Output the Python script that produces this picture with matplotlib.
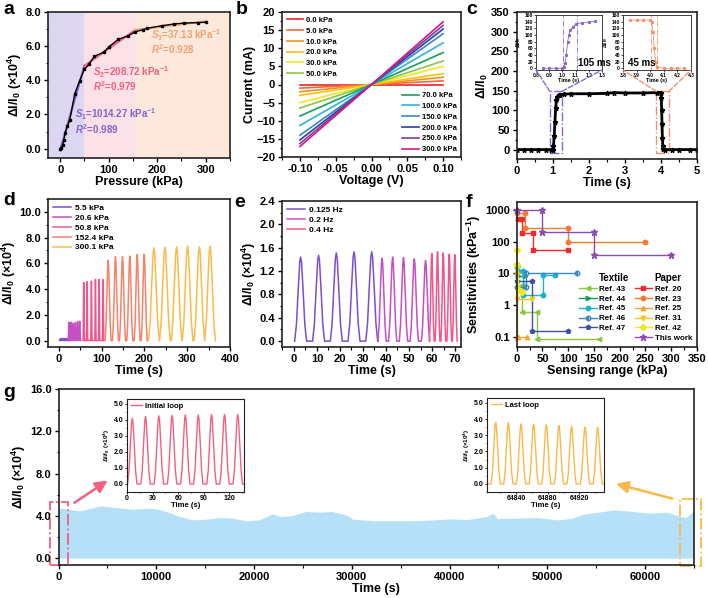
import numpy as np
import matplotlib
matplotlib.use('Agg')
import matplotlib.pyplot as plt
from matplotlib.lines import Line2D
from matplotlib.patches import Rectangle, ConnectionPatch
from matplotlib.ticker import AutoMinorLocator, FormatStrFormatter, NullLocator

plt.rcParams.update({
    'font.family': ['Liberation Sans', 'DejaVu Sans'],
    'font.weight': 'bold',
    'axes.labelweight': 'bold',
    'mathtext.fontset': 'custom',
    'mathtext.rm': 'Liberation Sans:bold',
    'mathtext.it': 'Liberation Sans:italic:bold',
    'mathtext.bf': 'Liberation Sans:bold',
    'axes.linewidth': 1.2,
    'axes.edgecolor': '#222222',
})

# ---------------- datos ----------------
# a) respuesta vs presion
a_p = [0, 2, 5, 8, 10, 15, 20, 30, 40, 50, 60, 70, 90, 100, 120, 140, 155, 170, 180, 210, 235, 255, 285, 300]
a_v = [0.0, 0.05, 0.2, 0.5, 0.9, 1.3, 1.7, 3.2, 3.95, 4.65, 4.95, 5.4, 5.65, 5.95, 6.4, 6.6, 6.85, 6.95, 7.05, 7.2, 7.3, 7.35, 7.38, 7.4]
a_fit_p = [0, 50, 155, 300]
a_fit_v = [-0.1, 4.85, 6.95, 7.45]

# b) curvas I-V
b_labels = ['0.0 kPa', '5.0 kPa', '10.0 kPa', '20.0 kPa', '30.0 kPa', '50.0 kPa',
            '70.0 kPa', '100.0 kPa', '150.0 kPa', '200.0 kPa', '250.0 kPa', '300.0 kPa']
b_i_pos = [0.0, 1.0, 2.0, 3.0, 5.0, 6.5, 8.8, 11.5, 14.0, 15.3, 16.3, 17.3]
b_i_neg = [0.0, -1.0, -2.0, -3.0, -5.0, -6.5, -8.7, -11.3, -14.0, -15.3, -16.3, -17.1]
b_colors = ['#e8262a', '#f26a3a', '#f5901e', '#fbbf0c', '#f3e51f', '#8dc63f',
            '#17a05a', '#2bb5e0', '#3a86c8', '#2e3f9e', '#7b3fa0', '#d6187f']

# c) tiempo de respuesta
c_t = [0, 0.2, 0.4, 0.6, 0.8, 0.95, 1.0, 1.02, 1.04, 1.06, 1.08, 1.1, 1.13, 1.17, 1.2, 1.3, 1.5, 2.0,
       2.5, 2.7, 3.0, 3.5, 3.9, 4.0, 4.01, 4.02, 4.03, 4.04, 4.05, 4.07, 4.1, 4.3, 4.5, 4.8, 5.0]
c_v = [0, 0, 0, 0, 0, 0, 0, 10, 35, 70, 105, 125, 135, 139, 140, 141, 142, 142,
       143, 145, 144, 144, 145, 145, 130, 100, 65, 30, 8, 2, 0, 0, 0, 0, 0]
c_in1_t = [0.85, 0.9, 0.95, 1.0, 1.01, 1.02, 1.03, 1.04, 1.05, 1.06, 1.08, 1.1, 1.15, 1.2, 1.25]
c_in1_v = [0, 0, 0, 0, 3, 15, 40, 80, 100, 115, 125, 132, 137, 139, 141]
c_in2_t = [3.85, 3.9, 3.95, 4.0, 4.01, 4.02, 4.03, 4.04, 4.05, 4.1, 4.15, 4.2, 4.25]
c_in2_v = [145, 145, 145, 145, 140, 110, 60, 20, 3, 0, 0, 0, 0]

# d) distintas presiones (picos)
d_labels = ['5.5 kPa', '20.6 kPa', '50.8 kPa', '152.4 kPa', '300.1 kPa']
d_colors = ['#7a4fd0', '#c64fc4', '#f2558a', '#f5826a', '#f9bb4a']
d_peaks = [[4, 8, 12, 16, 20],
           [24, 29, 34, 39, 44, 49],
           [58.5, 66.3, 76.4, 85.8, 94.4, 103.7],
           [115.4, 132.6, 149, 166, 183.3, 199.7],
           [222.3, 248, 275.3, 301, 328.4, 353.4]]
d_heights = [[0.15, 0.16, 0.15, 0.16, 0.15],
             [1.42, 1.42, 1.35, 1.40, 1.48, 1.50],
             [4.52, 4.57, 4.62, 4.75, 4.75, 4.73],
             [6.25, 6.51, 6.51, 6.56, 6.69, 6.69],
             [7.21, 7.26, 7.29, 7.34, 7.29, 7.34]]
d_halfw = [1.8, 2.0, 1.6, 7.0, 12.5]

# e) distintas frecuencias
e_labels = ['0.125 Hz', '0.2 Hz', '0.4 Hz']
e_colors = ['#7a4fd0', '#c64fc4', '#f2558a']
e_peaks = [[2.9, 10.7, 18.4, 26.1, 33.8],
           [38.3, 42.9, 47.6, 52.3, 57.2],
           [59.9, 62.4, 64.9, 67.5, 69.9]]
e_heights = [[1.44, 1.47, 1.51, 1.53, 1.53],
             [1.42, 1.44, 1.43, 1.41, 1.38],
             [1.50, 1.53, 1.51, 1.49, 1.48]]
e_halfw = [2.6, 1.8, 1.05]

# f) comparacion con la literatura
f_refs = {
    'Ref. 43': ([10, 10, 40, 40, 160], [4.3, 0.59, 0.59, 0.082, 0.082]),
    'Ref. 44': ([1, 3, 3, 16], [17, 17, 8, 8]),
    'Ref. 45': ([2, 13, 13, 52, 52, 75], [12, 12, 2.1, 2.1, 8.8, 8.8]),
    'Ref. 46': ([1, 19, 19, 118], [3.6, 3.6, 10.5, 10.5]),
    'Ref. 47': ([1, 30, 30, 100], [5.8, 5.8, 0.15, 0.15]),
    'Ref. 20': ([3, 11, 11, 31, 31, 100], [520, 520, 183, 183, 55, 55]),
    'Ref. 23': ([0.5, 16, 16, 100, 100, 250], [780, 780, 277, 277, 95, 95]),
    'Ref. 25': ([1, 1, 3, 20], [12, 0.1, 0.1, 0.1]),
    'Ref. 31': ([1, 1, 30], [18, 1.6, 1.6]),
    'Ref. 42': ([0.5, 1, 5, 10], [55, 18, 3, 2.5]),
    'This work': ([0, 50, 50, 150, 150, 300], [1000, 1000, 207, 207, 38, 38]),
}
f_style = {
    'Ref. 43': ('#8cc63f', '<'), 'Ref. 44': ('#11a05a', '>'), 'Ref. 45': ('#1ab3d0', 'o'),
    'Ref. 46': ('#3a88c8', 'o'), 'Ref. 47': ('#3f4fa3', 'p'), 'Ref. 20': ('#ee2a2a', 's'),
    'Ref. 23': ('#f47a30', 'o'), 'Ref. 25': ('#f7a530', '^'), 'Ref. 31': ('#f8c51a', 'v'),
    'Ref. 42': ('#f0e81a', 'D'), 'This work': ('#8a4cb0', '*'),
}

# g) estabilidad
g_t = [0, 800, 2200, 4200, 5900, 7600, 9300, 10000, 11000, 12400, 13700, 15100, 16500, 17800,
       19200, 20500, 21900, 22600, 23900, 25300, 26700, 28000, 29400, 30100, 30900, 32600,
       35000, 36700, 38400, 40100, 41800, 43800, 44400, 44900, 46900, 49000, 51000, 52400,
       53700, 55700, 56800, 58800, 60500, 62200, 63600, 64200, 64900, 65000]
g_v = [4.72, 4.66, 4.47, 4.94, 4.79, 4.63, 4.72, 4.66, 4.41, 3.94, 3.62, 3.69, 3.84, 3.78,
       3.53, 3.62, 4.19, 3.94, 4.03, 4.41, 4.35, 4.41, 4.09, 3.69, 3.62, 3.53,
       3.53, 3.55, 3.62, 3.72, 3.65, 3.94, 4.25, 3.75, 3.78, 3.84, 3.62, 3.75,
       4.16, 4.41, 4.57, 4.41, 4.25, 4.35, 3.94, 3.85, 4.41, 4.35]
g_in1_peaks = [6.2, 21.7, 37.3, 52.8, 68.3, 83.5, 99, 114.2, 129.7]
g_in1_h = [4.1, 4.2, 4.25, 4.28, 4.3, 4.3, 4.32, 4.33, 4.33]
g_in2_peaks = [64814, 64830, 64846, 64862, 64878, 64894, 64910, 64927, 64943]
g_in2_h = [3.79, 3.77, 3.70, 3.68, 3.64, 3.60, 3.54, 3.50, 3.48]

# forma normalizada de un pulso
PULSE_DX = [-1.0, -0.7, -0.4, -0.15, 0.0, 0.15, 0.4, 0.7, 1.0]
PULSE_DY = [0.0, 0.2, 0.62, 0.94, 1.0, 0.94, 0.62, 0.2, 0.0]


def pulse_train(peaks, heights, hw, t0=None, t1=None):
    t, y = [], []
    if t0 is not None:
        t.append(t0); y.append(0.0)
    for p, h in zip(peaks, heights):
        for dx, dy in zip(PULSE_DX, PULSE_DY):
            t.append(p + dx * hw); y.append(h * dy)
    if t1 is not None:
        t.append(t1); y.append(0.0)
    return t, y


W, H = 708, 598


def box(l, t, r, b):
    return [l / W, 1 - b / H, (r - l) / W, (b - t) / H]


def style(ax, size=8, minor=True):
    ax.tick_params(which='major', direction='out', length=3, width=1, labelsize=size, pad=2)
    ax.tick_params(which='minor', direction='out', length=1.8, width=0.8)
    if minor:
        ax.xaxis.set_minor_locator(AutoMinorLocator(2))
        ax.yaxis.set_minor_locator(AutoMinorLocator(2))
    for lab in ax.get_xticklabels() + ax.get_yticklabels():
        lab.set_fontweight('bold')


fig = plt.figure(figsize=(7.08, 5.98), dpi=100)
ylab4 = r'ΔI/I$_0$ (×10$^4$)'

# ---------------- a ----------------
ax = fig.add_axes(box(48, 12, 230, 158))
ax.axvspan(-25, 50, color='#dcd6f0', lw=0)
ax.axvspan(50, 155, color='#fde1e9', lw=0)
ax.axvspan(155, 350, color='#fde8dc', lw=0)
ax.plot(a_fit_p[:2], a_fit_v[:2], color='#8064c8', lw=1.5)
ax.plot(a_fit_p[1:3], a_fit_v[1:3], color='#f2607f', lw=1.5)
ax.plot(a_fit_p[2:], a_fit_v[2:], color='#f5a070', lw=1.5)
ax.plot(a_p, a_v, color='black', lw=1, marker='s', ms=1.8)
ax.set_xlim(-25, 350)
ax.set_ylim(-0.55, 8.0)
ax.set_xticks([0, 100, 200, 300])
ax.set_yticks([0, 2, 4, 6, 8])
ax.yaxis.set_major_formatter(FormatStrFormatter('%.1f'))
ax.set_xlabel('Pressure (kPa)', fontsize=9, labelpad=1)
ax.set_ylabel(ylab4, fontsize=9, labelpad=1)
ax.text(30, 2.0, r'$S_1$=1014.27 kPa$^{-1}$', color='#8064c8', fontsize=7, va='center')
ax.text(30, 1.15, r'$R^2$=0.989', color='#8064c8', fontsize=7, va='center')
ax.text(68, 4.5, r'$S_2$=208.72 kPa$^{-1}$', color='#f2607f', fontsize=7, va='center')
ax.text(68, 3.65, r'$R^2$=0.979', color='#f2607f', fontsize=7, va='center')
ax.text(188, 6.62, r'$S_3$=37.13 kPa$^{-1}$', color='#f5a070', fontsize=7, va='center')
ax.text(188, 5.8, r'$R^2$=0.928', color='#f5a070', fontsize=7, va='center')
style(ax)

# ---------------- b ----------------
ax = fig.add_axes(box(282, 12, 461, 157))
lines = []
for lab, ip, ineg, col in zip(b_labels, b_i_pos, b_i_neg, b_colors):
    ln, = ax.plot([-0.1, 0.0, 0.1], [ineg, 0.0, ip], color=col, lw=1.2, label=lab)
    lines.append(ln)
ax.set_xlim(-0.125, 0.125)
ax.set_ylim(-20, 20)
ax.set_xticks([-0.1, -0.05, 0, 0.05, 0.1])
ax.set_yticks(range(-20, 21, 5))
ax.xaxis.set_major_formatter(FormatStrFormatter('%.2f'))
ax.set_xlabel('Voltage (V)', fontsize=9, labelpad=1)
ax.set_ylabel('Current (mA)', fontsize=9, labelpad=0)
leg1 = ax.legend(handles=lines[:6], loc='upper left', fontsize=5.5, frameon=False,
                 handlelength=2.2, labelspacing=0.45, borderaxespad=0.2, handletextpad=0.4)
ax.add_artist(leg1)
ax.legend(handles=lines[6:], loc='lower right', fontsize=5.5, frameon=False,
          handlelength=2.2, labelspacing=0.45, borderaxespad=0.1, handletextpad=0.4)
style(ax)

# ---------------- c ----------------
axc = fig.add_axes(box(516.7, 12, 697, 159))
axc.plot(c_t, c_v, color='black', lw=2, marker='*', ms=3.5)
axc.set_xlim(0, 5)
axc.set_ylim(-24, 350)
axc.set_yticks(range(0, 351, 50))
axc.set_xticks(range(0, 6))
axc.set_xlabel('Time (s)', fontsize=9, labelpad=1)
axc.set_ylabel(r'ΔI/I$_0$', fontsize=9, labelpad=1)
style(axc)
purple_c, orange_c = '#8a66d8', '#f7906a'
axc.add_patch(Rectangle((0.92, -10), 0.33, 158, fill=False, ec=purple_c, ls='-.', lw=1))
axc.add_patch(Rectangle((3.87, -10), 0.35, 158, fill=False, ec=orange_c, ls='-.', lw=1))

ins1 = fig.add_axes(box(536, 15, 602, 70))
ins1.plot(c_in1_t, c_in1_v, color=purple_c, lw=0.6, marker='s', ms=1.2)
ins1.axvline(1.005, color=purple_c, ls='-.', lw=0.6)
ins1.axvline(1.11, color=purple_c, ls='-.', lw=0.6)
ins1.set_xlim(0.8, 1.3)
ins1.set_xticks([0.8, 0.9, 1.0, 1.1, 1.2, 1.3])
ins1.text(1.12, 6, '105 ms', fontsize=7, fontweight='bold')

ins2 = fig.add_axes(box(623, 15, 691, 70))
ins2.plot(c_in2_t, c_in2_v, color=orange_c, lw=0.6, marker='s', ms=1.2)
ins2.axvline(4.005, color=orange_c, ls='-.', lw=0.6)
ins2.axvline(4.05, color=orange_c, ls='-.', lw=0.6)
ins2.set_xlim(3.8, 4.3)
ins2.set_xticks([3.8, 3.9, 4.0, 4.1, 4.2, 4.3])
ins2.text(3.84, 6, '45 ms', fontsize=7, fontweight='bold')

for ins in (ins1, ins2):
    ins.set_ylim(-5, 160)
    ins.set_yticks(range(0, 161, 20))
    ins.tick_params(labelsize=3.5, length=1.2, width=0.5, pad=1)
    for s in ins.spines.values():
        s.set_linewidth(0.6)
    ins.set_xlabel('Time (s)', fontsize=4, labelpad=0)
    ins.set_ylabel(r'ΔI/I$_0$', fontsize=3.5, labelpad=1)

for (x0, x1, ins, col) in [(0.92, 1.25, ins1, purple_c), (3.87, 4.22, ins2, orange_c)]:
    for xa, xb in [(x0, 0), (x1, 1)]:
        cp = ConnectionPatch(xyA=(xa, 148), coordsA='data', axesA=axc,
                             xyB=(xb, 0), coordsB='axes fraction', axesB=ins,
                             color=col, ls='--', lw=1)
        fig.add_artist(cp)

# ---------------- d ----------------
ax = fig.add_axes(box(48, 199, 230, 347))
for lab, col, pk, hh, hw in zip(d_labels, d_colors, d_peaks, d_heights, d_halfw):
    t, y = pulse_train(pk, hh, hw)
    ax.plot(t, y, color=col, lw=1.1, label=lab)
ax.set_xlim(-25, 400)
ax.set_ylim(-0.5, 11)
ax.set_xticks([0, 100, 200, 300, 400])
ax.set_yticks([0, 2, 4, 6, 8, 10])
ax.yaxis.set_major_formatter(FormatStrFormatter('%.1f'))
ax.set_xlabel('Time (s)', fontsize=9, labelpad=1)
ax.set_ylabel(ylab4, fontsize=9, labelpad=1)
ax.legend(loc='upper left', fontsize=6, frameon=False, handlelength=2.2,
          labelspacing=0.25, borderaxespad=0.2, handletextpad=0.4)
style(ax)

# ---------------- e ----------------
ax = fig.add_axes(box(282, 201, 461, 347))
for lab, col, pk, hh, hw in zip(e_labels, e_colors, e_peaks, e_heights, e_halfw):
    t, y = pulse_train(pk, hh, hw)
    ax.plot(t, y, color=col, lw=1.1, label=lab)
ax.set_xlim(-5.2, 72.6)
ax.set_ylim(-0.1, 2.4)
ax.set_xticks(range(0, 71, 10))
ax.set_yticks([0, 0.4, 0.8, 1.2, 1.6, 2.0, 2.4])
ax.yaxis.set_major_formatter(FormatStrFormatter('%.1f'))
ax.set_xlabel('Time (s)', fontsize=9, labelpad=1)
ax.set_ylabel(ylab4, fontsize=9, labelpad=1)
ax.legend(loc='upper left', fontsize=6, frameon=False, handlelength=2.2,
          labelspacing=0.25, borderaxespad=0.2, handletextpad=0.4)
style(ax)

# ---------------- f ----------------
ax = fig.add_axes(box(516.7, 202, 697, 347))
handles = {}
for name, (xs, ys) in f_refs.items():
    col, mk = f_style[name]
    fs = 'left' if name == 'Ref. 46' else 'full'
    ms = 4.5 if mk == '*' else 3.2
    h, = ax.plot(xs, ys, color=col, lw=1, marker=mk, ms=ms, fillstyle=fs,
                 markerfacecoloralt='white', label=name, clip_on=False)
    handles[name] = h
ax.set_yscale('log')
ax.set_xlim(0, 350)
ax.set_ylim(0.047, 1800)
ax.set_xticks(range(0, 351, 50))
ax.set_yticks([0.1, 1, 10, 100, 1000])
ax.set_yticklabels(['0.1', '1', '10', '100', '1000'])
ax.yaxis.set_minor_locator(NullLocator())
ax.xaxis.set_minor_locator(AutoMinorLocator(2))
ax.set_xlabel('Sensing range (kPa)', fontsize=9, labelpad=1)
ax.set_ylabel(r'Sensitivities (kPa$^{-1}$)', fontsize=9, labelpad=1)
ax.tick_params(which='major', direction='out', length=3, width=1, labelsize=8, pad=2)
ax.tick_params(which='minor', direction='out', length=1.8, width=0.8)
blank = Line2D([], [], linestyle='none', marker='none')
col1 = [blank] + [handles[k] for k in ['Ref. 43', 'Ref. 44', 'Ref. 45', 'Ref. 46', 'Ref. 47']] + [blank]
lab1 = ['Textile', 'Ref. 43', 'Ref. 44', 'Ref. 45', 'Ref. 46', 'Ref. 47', '']
col2 = [blank] + [handles[k] for k in ['Ref. 20', 'Ref. 23', 'Ref. 25', 'Ref. 31', 'Ref. 42', 'This work']]
lab2 = ['Paper', 'Ref. 20', 'Ref. 23', 'Ref. 25', 'Ref. 31', 'Ref. 42', 'This work']
leg = ax.legend(col1 + col2, lab1 + lab2, ncol=2, loc='lower right', fontsize=5.8,
                frameon=False, handlelength=2.2, labelspacing=0.28, columnspacing=0.6,
                handletextpad=0.3, borderaxespad=0.2)
for txt in leg.get_texts():
    if txt.get_text() in ('Textile', 'Paper'):
        txt.set_fontsize(7)

# ---------------- g ----------------
axg = fig.add_axes(box(58.5, 389, 694, 565))
axg.fill_between(g_t, 0, g_v, color='#b5e0f8', lw=0)
axg.set_xlim(0, 65000)
axg.set_ylim(-0.65, 16)
axg.set_xticks(range(0, 60001, 10000))
axg.set_yticks([0, 4, 8, 12, 16])
axg.yaxis.set_major_formatter(FormatStrFormatter('%.1f'))
axg.set_xlabel('Time (s)', fontsize=9, labelpad=1)
axg.set_ylabel(ylab4, fontsize=9, labelpad=1)
style(axg)
pink_g, orange_g = '#f2607f', '#f9b94a'
axg.add_patch(Rectangle((-890, -0.63), 1870, 5.9, fill=False, ec=pink_g, ls='-.', lw=1.3, clip_on=False))
axg.add_patch(Rectangle((63570, -0.7), 2120, 6.3, fill=False, ec=orange_g, ls='-.', lw=1.3, clip_on=False))
axg.annotate('', xy=(5268, 7.48), xytext=(1381, 5.09), annotation_clip=False,
             arrowprops=dict(arrowstyle='-|>', color=pink_g, lw=1.8, mutation_scale=18))
axg.annotate('', xy=(56750, 7.1), xytext=(63050, 5.57), annotation_clip=False,
             arrowprops=dict(arrowstyle='-|>', color=orange_g, lw=1.8, mutation_scale=18))

gi1 = fig.add_axes(box(127, 399, 244, 492))
t, y = pulse_train(g_in1_peaks, g_in1_h, 5.5, t0=0, t1=137)
gi1.plot(t, y, color=pink_g, lw=1, label='Initial loop')
gi1.set_xlim(0, 137)
gi1.set_xticks([0, 30, 60, 90, 120])
gi2 = fig.add_axes(box(487, 398, 604, 492))
t, y = pulse_train(g_in2_peaks, g_in2_h, 5.8, t0=64803, t1=64951)
gi2.plot(t, y, color=orange_g, lw=1, label='Last loop')
gi2.set_xlim(64803, 64951)
gi2.set_xticks([64840, 64880, 64920])
for gi in (gi1, gi2):
    gi.set_ylim(-0.5, 5.3)
    gi.set_yticks([0, 1, 2, 3, 4, 5])
    gi.yaxis.set_major_formatter(FormatStrFormatter('%.1f'))
    gi.tick_params(labelsize=5, length=1.5, width=0.6, pad=1)
    gi.xaxis.set_minor_locator(AutoMinorLocator(2))
    gi.yaxis.set_minor_locator(AutoMinorLocator(2))
    gi.tick_params(which='minor', length=1, width=0.5)
    for s in gi.spines.values():
        s.set_linewidth(0.8)
    gi.set_xlabel('Time (s)', fontsize=5.5, labelpad=0)
    gi.set_ylabel(ylab4, fontsize=4.5, labelpad=1)
    gi.legend(loc='upper left', fontsize=5.5, frameon=False, handlelength=1.5,
              borderaxespad=0.1, handletextpad=0.3)

# letras de los paneles
for letter, x, y in [('a', 3, 1), ('b', 236, 1), ('c', 466, 1), ('d', 3, 192),
                     ('e', 234, 194), ('f', 466, 194), ('g', 3, 384)]:
    fig.text(x / W, 1 - y / H, letter, fontsize=14, fontweight='bold', va='top', ha='left')

fig.savefig('out.png', dpi=100)
